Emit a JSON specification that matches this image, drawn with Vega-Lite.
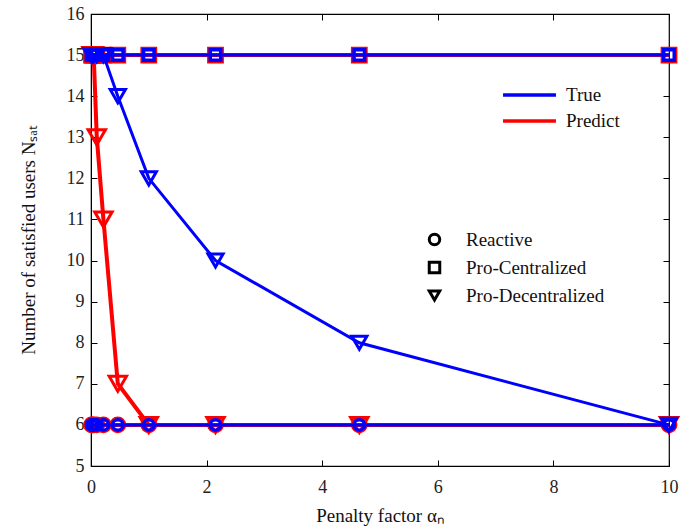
{
  "$schema": "https://vega.github.io/schema/vega-lite/v6.json",
  "autosize": "none",
  "padding": {"left": 91, "top": 14, "right": 28, "bottom": 63},
  "width": 578,
  "height": 452,
  "background": "white",
  "config": {
    "view": {"stroke": "black", "strokeWidth": 1.2},
    "font": "Liberation Serif",
    "axis": {
      "labelFont": "Liberation Serif", "titleFont": "Liberation Serif",
      "labelFontSize": 18, "titleFontSize": 19, "titleFontWeight": "normal",
      "labelColor": "#222", "titleColor": "#111", "labelFlush": false,
      "domainColor": "black", "tickColor": "black", "tickSize": -6, "grid": false
    },
    "legend": {"labelFont": "Liberation Serif", "labelFontSize": 19, "labelColor": "#111"}
  },
  "resolve": {"axis": {"x": "independent", "y": "independent"}},
  "data": {
    "values": [
      {"x": 0.01, "y": 6, "metric": "True", "scheme": "Reactive"},
      {"x": 0.0215, "y": 6, "metric": "True", "scheme": "Reactive"},
      {"x": 0.0464, "y": 6, "metric": "True", "scheme": "Reactive"},
      {"x": 0.1, "y": 6, "metric": "True", "scheme": "Reactive"},
      {"x": 0.215, "y": 6, "metric": "True", "scheme": "Reactive"},
      {"x": 0.464, "y": 6, "metric": "True", "scheme": "Reactive"},
      {"x": 1, "y": 6, "metric": "True", "scheme": "Reactive"},
      {"x": 2.154, "y": 6, "metric": "True", "scheme": "Reactive"},
      {"x": 4.642, "y": 6, "metric": "True", "scheme": "Reactive"},
      {"x": 10, "y": 6, "metric": "True", "scheme": "Reactive"},
      {"x": 0.01, "y": 6, "metric": "Predict", "scheme": "Reactive"},
      {"x": 0.0215, "y": 6, "metric": "Predict", "scheme": "Reactive"},
      {"x": 0.0464, "y": 6, "metric": "Predict", "scheme": "Reactive"},
      {"x": 0.1, "y": 6, "metric": "Predict", "scheme": "Reactive"},
      {"x": 0.215, "y": 6, "metric": "Predict", "scheme": "Reactive"},
      {"x": 0.464, "y": 6, "metric": "Predict", "scheme": "Reactive"},
      {"x": 1, "y": 6, "metric": "Predict", "scheme": "Reactive"},
      {"x": 2.154, "y": 6, "metric": "Predict", "scheme": "Reactive"},
      {"x": 4.642, "y": 6, "metric": "Predict", "scheme": "Reactive"},
      {"x": 10, "y": 6, "metric": "Predict", "scheme": "Reactive"},
      {"x": 0.01, "y": 15, "metric": "True", "scheme": "Pro-Centralized"},
      {"x": 0.0215, "y": 15, "metric": "True", "scheme": "Pro-Centralized"},
      {"x": 0.0464, "y": 15, "metric": "True", "scheme": "Pro-Centralized"},
      {"x": 0.1, "y": 15, "metric": "True", "scheme": "Pro-Centralized"},
      {"x": 0.215, "y": 15, "metric": "True", "scheme": "Pro-Centralized"},
      {"x": 0.464, "y": 15, "metric": "True", "scheme": "Pro-Centralized"},
      {"x": 1, "y": 15, "metric": "True", "scheme": "Pro-Centralized"},
      {"x": 2.154, "y": 15, "metric": "True", "scheme": "Pro-Centralized"},
      {"x": 4.642, "y": 15, "metric": "True", "scheme": "Pro-Centralized"},
      {"x": 10, "y": 15, "metric": "True", "scheme": "Pro-Centralized"},
      {"x": 0.01, "y": 15, "metric": "Predict", "scheme": "Pro-Centralized"},
      {"x": 0.0215, "y": 15, "metric": "Predict", "scheme": "Pro-Centralized"},
      {"x": 0.0464, "y": 15, "metric": "Predict", "scheme": "Pro-Centralized"},
      {"x": 0.1, "y": 15, "metric": "Predict", "scheme": "Pro-Centralized"},
      {"x": 0.215, "y": 15, "metric": "Predict", "scheme": "Pro-Centralized"},
      {"x": 0.464, "y": 15, "metric": "Predict", "scheme": "Pro-Centralized"},
      {"x": 1, "y": 15, "metric": "Predict", "scheme": "Pro-Centralized"},
      {"x": 2.154, "y": 15, "metric": "Predict", "scheme": "Pro-Centralized"},
      {"x": 4.642, "y": 15, "metric": "Predict", "scheme": "Pro-Centralized"},
      {"x": 10, "y": 15, "metric": "Predict", "scheme": "Pro-Centralized"},
      {"x": 0.01, "y": 15, "metric": "True", "scheme": "Pro-Decentralized"},
      {"x": 0.0215, "y": 15, "metric": "True", "scheme": "Pro-Decentralized"},
      {"x": 0.0464, "y": 15, "metric": "True", "scheme": "Pro-Decentralized"},
      {"x": 0.1, "y": 15, "metric": "True", "scheme": "Pro-Decentralized"},
      {"x": 0.215, "y": 15, "metric": "True", "scheme": "Pro-Decentralized"},
      {"x": 0.464, "y": 14, "metric": "True", "scheme": "Pro-Decentralized"},
      {"x": 1, "y": 12, "metric": "True", "scheme": "Pro-Decentralized"},
      {"x": 2.154, "y": 10, "metric": "True", "scheme": "Pro-Decentralized"},
      {"x": 4.642, "y": 8, "metric": "True", "scheme": "Pro-Decentralized"},
      {"x": 10, "y": 6, "metric": "True", "scheme": "Pro-Decentralized"},
      {"x": 0.01, "y": 15, "metric": "Predict", "scheme": "Pro-Decentralized"},
      {"x": 0.0215, "y": 15, "metric": "Predict", "scheme": "Pro-Decentralized"},
      {"x": 0.0464, "y": 15, "metric": "Predict", "scheme": "Pro-Decentralized"},
      {"x": 0.1, "y": 13, "metric": "Predict", "scheme": "Pro-Decentralized"},
      {"x": 0.215, "y": 11, "metric": "Predict", "scheme": "Pro-Decentralized"},
      {"x": 0.464, "y": 7, "metric": "Predict", "scheme": "Pro-Decentralized"},
      {"x": 1, "y": 6, "metric": "Predict", "scheme": "Pro-Decentralized"},
      {"x": 2.154, "y": 6, "metric": "Predict", "scheme": "Pro-Decentralized"},
      {"x": 4.642, "y": 6, "metric": "Predict", "scheme": "Pro-Decentralized"},
      {"x": 10, "y": 6, "metric": "Predict", "scheme": "Pro-Decentralized"}
    ]
  },
  "layer": [
    {
      "transform": [{"filter": "datum.metric == 'Predict'"}],
      "mark": {"type": "line", "strokeWidth": 4},
      "encoding": {
        "x": {"field": "x", "type": "quantitative",
          "scale": {"domain": [0, 10], "nice": false, "zero": false},
          "axis": {"values": [0, 2, 4, 6, 8, 10], "title": "Penalty factor αₙ", "titlePadding": 10, "labelPadding": 18}},
        "y": {"field": "y", "type": "quantitative",
          "scale": {"domain": [5, 16], "nice": false, "zero": false},
          "axis": {"values": [5, 6, 7, 8, 9, 10, 11, 12, 13, 14, 15, 16], "title": "Number of satisfied users Nₛₐₜ", "titlePadding": 28, "labelPadding": 13}},
        "color": {"field": "metric", "type": "nominal",
          "scale": {"domain": ["True", "Predict"], "range": ["#0000ff", "#ff0000"]},
          "legend": {"title": null, "orient": "none", "legendX": 410, "legendY": 68,
            "symbolType": "stroke", "symbolSize": 2800, "symbolStrokeWidth": 3.5,
            "clipHeight": 26, "rowPadding": 0, "labelOffset": 8}},
        "detail": {"field": "scheme"}
      }
    },
    {
      "transform": [{"filter": "datum.metric == 'Predict' && datum.scheme != 'Pro-Decentralized'"}],
      "mark": {"type": "point", "filled": false, "strokeWidth": 3, "opacity": 1, "size": 190},
      "encoding": {
        "x": {"field": "x", "type": "quantitative", "axis": null},
        "y": {"field": "y", "type": "quantitative", "axis": null},
        "color": {"field": "metric", "type": "nominal"},
        "shape": {"field": "scheme", "type": "nominal",
          "scale": {"domain": ["Reactive", "Pro-Centralized", "Pro-Decentralized"], "range": ["circle", "square", "triangle-down"]},
          "legend": {"title": null, "orient": "none", "legendX": 334, "legendY": 216,
            "symbolStrokeColor": "black", "symbolStrokeWidth": 3, "symbolSize": 110,
            "rowPadding": 5, "labelOffset": 22}}
      }
    },
    {
      "transform": [{"filter": "datum.metric == 'Predict' && datum.scheme == 'Pro-Decentralized'"}],
      "mark": {"type": "point", "filled": false, "strokeWidth": 3, "opacity": 1, "size": 300},
      "encoding": {
        "x": {"field": "x", "type": "quantitative", "axis": null},
        "y": {"field": "y", "type": "quantitative", "axis": null},
        "color": {"field": "metric", "type": "nominal"},
        "shape": {"field": "scheme", "type": "nominal"}
      }
    },
    {
      "transform": [{"filter": "datum.metric == 'True'"}],
      "mark": {"type": "line", "strokeWidth": 3},
      "encoding": {
        "x": {"field": "x", "type": "quantitative", "axis": null},
        "y": {"field": "y", "type": "quantitative", "axis": null},
        "color": {"field": "metric", "type": "nominal"},
        "detail": {"field": "scheme"}
      }
    },
    {
      "transform": [{"filter": "datum.metric == 'True' && datum.scheme != 'Pro-Decentralized'"}],
      "mark": {"type": "point", "filled": false, "strokeWidth": 3.5, "opacity": 1, "size": 110},
      "encoding": {
        "x": {"field": "x", "type": "quantitative", "axis": null},
        "y": {"field": "y", "type": "quantitative", "axis": null},
        "color": {"field": "metric", "type": "nominal"},
        "shape": {"field": "scheme", "type": "nominal"}
      }
    },
    {
      "transform": [{"filter": "datum.metric == 'True' && datum.scheme == 'Pro-Decentralized'"}],
      "mark": {"type": "point", "filled": false, "strokeWidth": 3, "opacity": 1, "size": 230},
      "encoding": {
        "x": {"field": "x", "type": "quantitative", "axis": null},
        "y": {"field": "y", "type": "quantitative", "axis": null},
        "color": {"field": "metric", "type": "nominal"},
        "shape": {"field": "scheme", "type": "nominal"}
      }
    },
    {
      "mark": {"type": "point", "opacity": 0},
      "encoding": {
        "x": {"field": "x", "type": "quantitative", "axis": {"orient": "top", "values": [0, 2, 4, 6, 8, 10], "labels": false, "title": null, "domain": false}},
        "y": {"field": "y", "type": "quantitative", "axis": {"orient": "right", "values": [5, 6, 7, 8, 9, 10, 11, 12, 13, 14, 15, 16], "labels": false, "title": null, "domain": false}}
      }
    }
  ]
}
